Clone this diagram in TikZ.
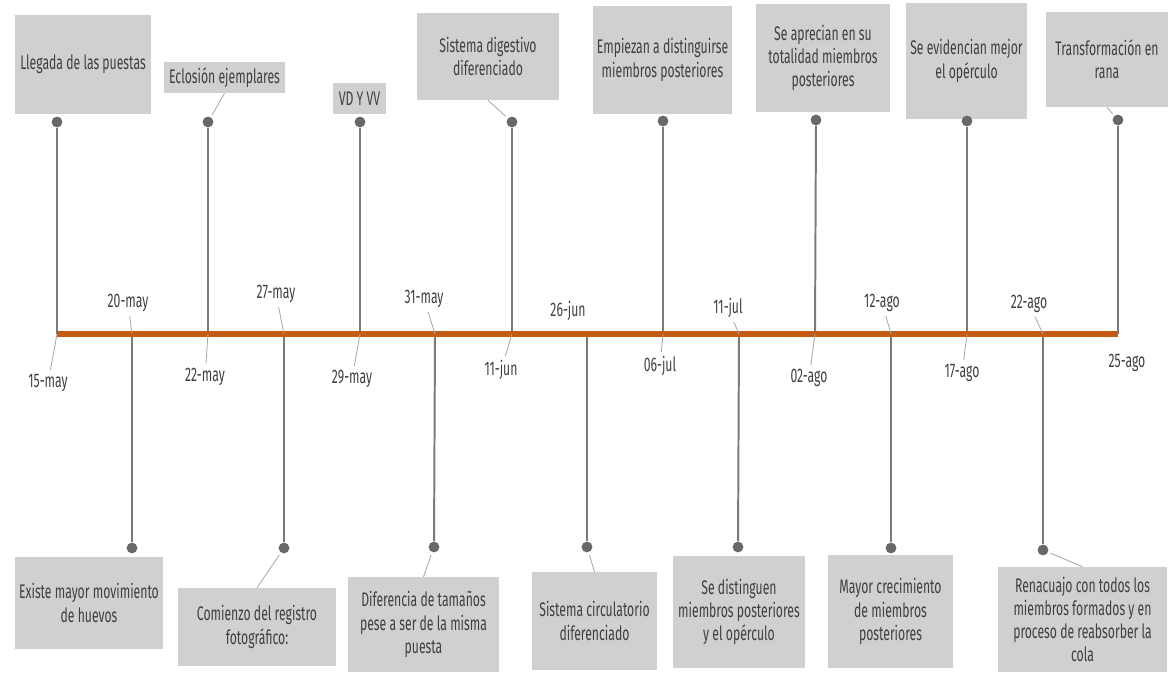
\documentclass[tikz,border=0pt]{standalone}
\usepackage{fontspec}
\setmainfont{Fira Sans}[FakeStretch=0.62]

\definecolor{axisred}{HTML}{C55A11}
\definecolor{boxgray}{HTML}{D0D0D0}
\definecolor{stemgray}{HTML}{7A7A7A}
\definecolor{textgray}{HTML}{404040}
\definecolor{leadgray}{HTML}{A8A8A8}

\tikzset{
    event/.style={
        rectangle, fill=boxgray, inner sep=2pt,
        align=center, text=textgray,
        font=\fontsize{14}{16.5}\selectfont
    },
    datelbl/.style={
        inner sep=1pt, text=textgray,
        font=\fontsize{14}{16.5}\selectfont
    },
    tack/.style={
        circle, fill=stemgray!85!black,
        minimum size=0.27cm, inner sep=0pt
    },
    stem/.style={draw=stemgray, line width=1.4pt},
    timeline/.style={draw=axisred, line width=3.6pt},
    leader/.style={draw=leadgray, line width=0.6pt, shorten <=2pt}
}

\begin{document}
\begin{tikzpicture}[x=0.025cm, y=-0.025cm]
\useasboundingbox (0,0) rectangle (1169,672);

% Points on the time axis
\coordinate (a1) at (57,334);
\coordinate (a2) at (132,334);
\coordinate (a3) at (208,334);
\coordinate (a4) at (284,334);
\coordinate (a5) at (360,334);
\coordinate (a6) at (435,334);
\coordinate (a7) at (512,334);
\coordinate (a8) at (587,334);
\coordinate (a9) at (663,334);
\coordinate (a10) at (739,334);
\coordinate (a11) at (815,334);
\coordinate (a12) at (891,334);
\coordinate (a13) at (967,334);
\coordinate (a14) at (1043,334);
\coordinate (a15) at (1118,334);

% Upper events
\node[event, minimum width=3.4cm, minimum height=2.475cm] (ev1) at (83,64.5) {Llegada de las puestas};
\node[event, minimum width=3.025cm, minimum height=0.775cm] (ev3) at (224.5,77.5) {Eclosión ejemplares};
\node[event, minimum width=1.325cm, minimum height=0.775cm] (ev5) at (359.5,98.5) {VD Y VV};
\node[event, minimum width=3.55cm, minimum height=2.175cm] (ev7) at (488,56.5) {Sistema digestivo\\diferenciado};
\node[event, minimum width=3.475cm, minimum height=2.7cm] (ev9) at (662.5,60) {Empiezan a distinguirse\\miembros posteriores};
\node[event, minimum width=3.35cm, minimum height=2.7cm] (ev11) at (823,58) {Se aprecian en su\\totalidad miembros\\posteriores};
\node[event, minimum width=3.025cm, minimum height=2.9cm] (ev13) at (966.5,61) {Se evidencian mejor\\el opérculo};
\node[event, minimum width=3.05cm, minimum height=2.375cm] (ev15) at (1107,59.5) {Transformación en\\rana};

% Lower events
\node[event, minimum width=3.7cm, minimum height=2.3cm] (ev2) at (89,603) {Existe mayor movimiento\\de huevos};
\node[event, minimum width=3.95cm, minimum height=1.95cm] (ev4) at (257,627) {Comienzo del registro\\fotográfico:};
\node[event, minimum width=3.775cm, minimum height=2.375cm] (ev6) at (423.5,624.5) {Diferencia de tamaños\\pese a ser de la misma\\puesta};
\node[event, minimum width=3.125cm, minimum height=2.45cm] (ev8) at (594.5,621) {Sistema circulatorio\\diferenciado};
\node[event, minimum width=3.3cm, minimum height=2.8cm] (ev10) at (739,612) {Se distinguen\\miembros posteriores\\y el opérculo};
\node[event, minimum width=3.125cm, minimum height=2.825cm] (ev12) at (890.5,611.5) {Mayor crecimiento\\de miembros\\posteriores};
\node[event, minimum width=4.225cm, minimum height=2.625cm] (ev14) at (1082.5,619.5) {Renacuajo con todos los\\miembros formados y en\\proceso de reabsorber la\\cola};

% Pins at the end of each stem
\node[tack] (p1) at (57,122) {};
\node[tack] (p3) at (208,122) {};
\node[tack] (p5) at (360,122) {};
\node[tack] (p7) at (512,122) {};
\node[tack] (p9) at (663,121) {};
\node[tack] (p11) at (816,120) {};
\node[tack] (p13) at (967,121) {};
\node[tack] (p15) at (1118,120) {};
\node[tack] (p2) at (132,548) {};
\node[tack] (p4) at (284,548) {};
\node[tack] (p6) at (434,547) {};
\node[tack] (p8) at (587,547) {};
\node[tack] (p10) at (738,547) {};
\node[tack] (p12) at (891,548) {};
\node[tack] (p14) at (1043,550) {};

% Dates
\node[datelbl] (d1) at (48,383) {15-may};
\node[datelbl] (d2) at (128,303) {20-may};
\node[datelbl] (d3) at (205,377) {22-may};
\node[datelbl] (d4) at (276,294) {27-may};
\node[datelbl] (d5) at (352,379) {29-may};
\node[datelbl] (d6) at (424,299) {31-may};
\node[datelbl] (d7) at (501,370) {11-jun};
\node[datelbl] (d8) at (568,311) {26-jun};
\node[datelbl] (d9) at (660,366) {06-jul};
\node[datelbl] (d10) at (728,308) {11-jul};
\node[datelbl] (d11) at (809,378) {02-ago};
\node[datelbl] (d12) at (882,303) {12-ago};
\node[datelbl] (d13) at (962,373) {17-ago};
\node[datelbl] (d14) at (1029,304) {22-ago};
\node[datelbl] (d15) at (1127,363) {25-ago};

% Stems
\foreach \i in {1,...,15}
    \draw[stem] (a\i) -- (p\i);

% Axis
\draw[timeline] (a1) -- (a15);

% Date leaders
\foreach \i in {1,2,3,4,5,6,7,9,10,11,12,13,14}
    \draw[leader] (d\i) -- (a\i);

% Box leaders
\draw[leader] (p3) -- (ev3.south);
\draw[leader] (p7) -- (ev7.south);
\draw[leader] (p15) -- (ev15.south);
\draw[leader] (p4) -- (ev4.north);
\draw[leader] (p6) -- (ev6.north);
\draw[leader] (p8) -- (ev8.north);
\draw[leader] (p14) -- (ev14.north);

\end{tikzpicture}
\end{document}
